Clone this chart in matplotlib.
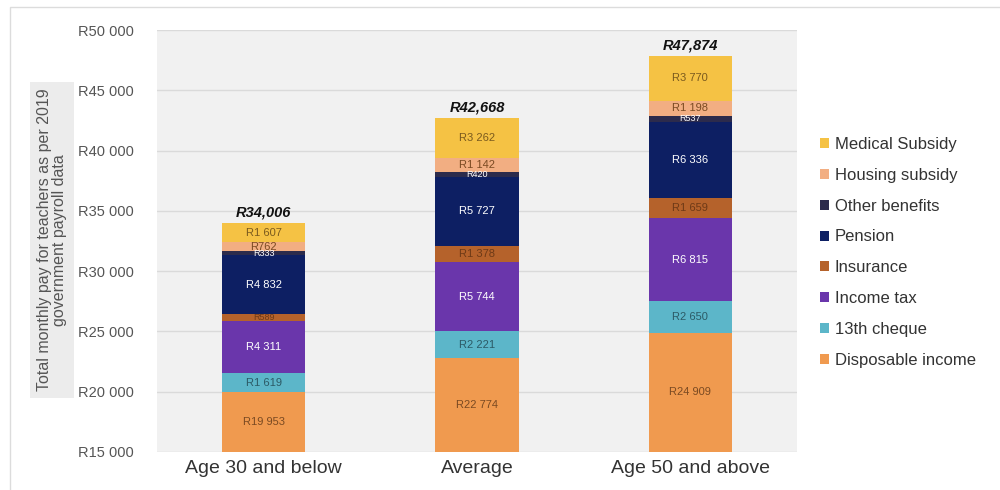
import matplotlib
matplotlib.use('Agg')
import matplotlib.pyplot as plt
from matplotlib.patches import Patch, Rectangle
import numpy as np

plt.rcParams['font.family'] = ['Liberation Sans', 'DejaVu Sans']

### DATA

groups = ['Age 30 and below', 'Average', 'Age 50 and above']
components = ['Disposable income', '13th cheque', 'Income tax', 'Insurance',
              'Pension', 'Other benefits', 'Housing subsidy', 'Medical Subsidy']

disposable = [19953, 22774, 24909]
cheque_13 = [1619, 2221, 2650]
income_tax = [4311, 5744, 6815]
insurance = [589, 1378, 1659]
pension = [4832, 5727, 6336]
other_benefits = [333, 420, 537]
housing = [762, 1142, 1198]
medical = [1607, 3262, 3770]

totals = [34006, 42668, 47874]
yticks = [15000, 20000, 25000, 30000, 35000, 40000, 45000, 50000]

### STYLE

colors = ['#f09a4f', '#5cb6c9', '#6a36ab', '#b5622b',
          '#0d1f63', '#2c2b4c', '#f2ae82', '#f5c244']
text_colors = ['#7a4a22', '#2c5a66', 'white', '#6e3a17',
               'white', 'white', '#7a4a22', '#7a5a1e']

series = [disposable, cheque_13, income_tax, insurance,
          pension, other_benefits, housing, medical]

y_min, y_max = 15000, 50000

fig = plt.figure(figsize=(10, 4.9), dpi=100)
fig.patches.append(Rectangle((0.01, -0.01), 1.0, 0.996, transform=fig.transFigure,
                             fill=False, edgecolor='#dcdcdc', lw=1))
ax = fig.add_axes([0.157, 0.0776, 0.64, 0.861])
ax.set_facecolor('#f1f1f1')

x = np.arange(len(groups))
width = 0.39
bottom = np.zeros(len(groups))

for vals, name, c, tc in zip(series, components, colors, text_colors):
    vals = np.array(vals, dtype=float)
    ax.bar(x, vals, width, bottom=bottom, color=c, label=name, zorder=3)
    for i, v in enumerate(vals):
        # label sits in the middle of the visible part of the segment
        lo = max(bottom[i], y_min)
        y = (lo + bottom[i] + v) / 2
        fs = 6.5 if v < 600 else 8
        ax.text(x[i], y, 'R' + format(int(v), ',').replace(',', ' '),
                ha='center', va='center', fontsize=fs, color=tc, zorder=4)
    bottom += vals

for i, t in enumerate(totals):
    ax.text(x[i], t + 300, 'R' + format(t, ','), ha='center', va='bottom',
            fontsize=10.5, fontweight='bold', fontstyle='italic', color='#111111')

ax.set_ylim(y_min, y_max)
ax.set_xlim(-0.5, 2.5)
ax.set_yticks(yticks)
ax.set_yticklabels(['R' + format(t, ',').replace(',', ' ') for t in yticks],
                   fontsize=10.5, color='#555555')
ax.set_xticks(x)
ax.set_xticklabels(groups, fontsize=14, color='#333333')
ax.tick_params(axis='y', length=0, pad=17)
ax.tick_params(axis='x', length=0, pad=6)
ax.grid(axis='y', color='#dadada', lw=1, zorder=0)
for s in ax.spines.values():
    s.set_visible(False)

fig.text(0.052, 0.51, 'Total monthly pay for teachers as per 2019\ngovernment payroll data',
         rotation=90, ha='center', va='center', multialignment='center',
         fontsize=11.5, color='#555555', linespacing=1.0,
         bbox=dict(facecolor='#ececec', edgecolor='none', pad=5))

handles = [Patch(facecolor=c, label=n) for n, c in zip(components, colors)][::-1]
fig.legend(handles=handles, loc='center left', bbox_to_anchor=(0.805, 0.485),
           frameon=False, fontsize=12, handlelength=0.55, handleheight=0.55,
           handletextpad=0.35, labelspacing=0.95, labelcolor='#333333')

fig.savefig('out.png', dpi=100)
